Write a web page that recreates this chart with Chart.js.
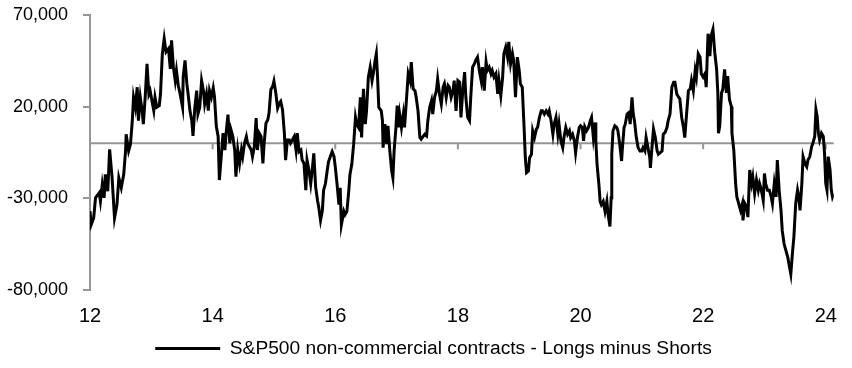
<!DOCTYPE html>
<html>
<head>
<meta charset="utf-8">
<script src="https://cdn.jsdelivr.net/npm/chart.js@4.4.1/dist/chart.umd.min.js"></script>
<style>
  html, body { margin: 0; padding: 0; background: #fff; }
  #wrap { width: 852px; height: 368px; }
</style>
</head>
<body>
<div id="wrap"><canvas id="myChart" width="852" height="368"></canvas></div>
<script>
// weekly positioning (year as decimal, 12 = 2012)
var weeks = [
  12.00, 12.02, 12.06, 12.09, 12.15, 12.17, 12.20, 12.23, 12.25, 12.29, 12.32, 12.36, 12.40, 12.44, 12.47, 12.51,
  12.55, 12.58, 12.59, 12.63, 12.66, 12.69, 12.71, 12.74, 12.77, 12.79, 12.82, 12.85, 12.87, 12.90, 12.93, 12.96,
  12.98, 13.01, 13.04, 13.06, 13.09, 13.13, 13.15, 13.18, 13.21, 13.24, 13.28, 13.31, 13.33, 13.36, 13.39, 13.41,
  13.44, 13.47, 13.51, 13.52, 13.55, 13.58, 13.60, 13.63, 13.66, 13.68, 13.71, 13.74, 13.76, 13.79, 13.82, 13.85,
  13.87, 13.90, 13.93, 13.95, 13.98,
  14.01, 14.03, 14.06, 14.09, 14.11, 14.14, 14.17, 14.20, 14.22, 14.25, 14.28, 14.30, 14.33, 14.36, 14.38, 14.41,
  14.44, 14.47, 14.49, 14.52, 14.55, 14.57, 14.60, 14.63, 14.65, 14.68, 14.71, 14.73, 14.76, 14.79, 14.82, 14.84,
  14.87, 14.90, 14.92, 14.95, 14.98, 15.00, 15.03, 15.06, 15.09, 15.11, 15.14, 15.17, 15.19, 15.22, 15.25, 15.27,
  15.30, 15.33, 15.36, 15.38, 15.41, 15.44, 15.46, 15.49, 15.52, 15.54, 15.57, 15.60, 15.63, 15.65, 15.68, 15.71,
  15.73, 15.76, 15.79, 15.81, 15.84, 15.87, 15.89, 15.92, 15.95, 15.98, 16.00,
  16.03, 16.06, 16.08, 16.10, 16.14, 16.16, 16.19, 16.22, 16.24, 16.27, 16.30, 16.33, 16.35, 16.38, 16.41, 16.43,
  16.46, 16.49, 16.51, 16.54, 16.57, 16.60, 16.62, 16.65, 16.67, 16.69, 16.71, 16.75, 16.77, 16.78, 16.81, 16.84,
  16.86, 16.89, 16.92, 16.94, 16.96, 16.99, 17.01, 17.03, 17.05, 17.08, 17.11, 17.13, 17.16, 17.19, 17.22, 17.24,
  17.27, 17.30, 17.32, 17.35, 17.38, 17.40, 17.46, 17.49, 17.51, 17.54, 17.57, 17.59, 17.62, 17.65, 17.67, 17.70,
  17.73, 17.76, 17.78, 17.81, 17.84, 17.86, 17.89, 17.92, 17.94, 17.97, 18.00,
  18.03, 18.05, 18.08, 18.11, 18.13, 18.16, 18.19, 18.21, 18.24, 18.27, 18.29, 18.32, 18.35, 18.38, 18.40, 18.43,
  18.46, 18.48, 18.51, 18.54, 18.56, 18.59, 18.62, 18.65, 18.67, 18.70, 18.73, 18.75, 18.78, 18.81, 18.83, 18.86,
  18.89, 18.91, 18.94, 18.97, 19.00, 19.02, 19.05, 19.08, 19.10, 19.12, 19.15, 19.17, 19.20, 19.22, 19.25, 19.28,
  19.30, 19.33, 19.36, 19.38, 19.41, 19.44, 19.47, 19.49, 19.52, 19.55, 19.57, 19.60, 19.63, 19.65, 19.68, 19.71,
  19.73, 19.76, 19.79, 19.82, 19.84, 19.87, 19.90, 19.92, 19.95, 19.98, 20.00, 20.03, 20.05,
  20.07, 20.10, 20.13, 20.16, 20.18, 20.21, 20.24, 20.25, 20.27, 20.30, 20.32, 20.34, 20.37, 20.40, 20.43, 20.45,
  20.48, 20.50, 20.51, 20.53, 20.56, 20.59, 20.61, 20.64, 20.67, 20.68, 20.71, 20.73, 20.76, 20.79, 20.81, 20.84,
  20.86, 20.88, 20.91, 20.94, 20.97, 21.00, 21.02, 21.05, 21.07, 21.10, 21.13, 21.14, 21.17, 21.19, 21.22, 21.25,
  21.27, 21.30, 21.33, 21.35, 21.38, 21.41, 21.43, 21.46, 21.49, 21.52, 21.54, 21.57, 21.60, 21.62, 21.65, 21.68,
  21.70, 21.73, 21.76, 21.79, 21.81, 21.84, 21.87, 21.89, 21.92, 21.95, 21.97, 22.00, 22.03, 22.05, 22.08,
  22.11, 22.13, 22.16, 22.19, 22.22, 22.24, 22.25, 22.27, 22.30, 22.32, 22.35, 22.38, 22.40, 22.43, 22.46, 22.47,
  22.50, 22.53, 22.55, 22.58, 22.61, 22.64, 22.65, 22.68, 22.71, 22.73, 22.76, 22.79, 22.81, 22.84, 22.87, 22.90,
  22.92, 22.95, 22.98, 23.00, 23.02, 23.05, 23.08, 23.11, 23.13, 23.16, 23.19, 23.21, 23.24, 23.27, 23.29, 23.32,
  23.35, 23.38, 23.40, 23.43, 23.46, 23.48, 23.51, 23.54, 23.56, 23.58, 23.61, 23.63, 23.66, 23.69, 23.71, 23.74,
  23.77, 23.79, 23.82, 23.84, 23.86, 23.88, 23.90, 23.93, 23.96, 23.98, 24.00, 24.02, 24.04, 24.07, 24.09, 24.11,
  24.13
]

var netPos = [
  -37100, -44500, -40800, -29800, -27100, -31700, -22500, -29800, -17000, -26200, -3300, -18800, -40800, -33500, -18800, -24300,
  -17000, -4200, 4900, -4200, -500, 12300, 25100, 19600, 30600, 12300, 25100, 17800, 10400, 25100, 43400, 26900,
  28700, 23200, 17800, 25100, 19600, 20500, 26900, 48900, 57100, 49800, 51600, 40600, 56200, 41500, 34200, 39700,
  31500, 26900, 19600, 36100, 45200, 32400, 26900, 17800, 12300, 4000, 19600, 28700, 15900, 19600, 34200, 28700,
  21400, 26900, 17800, 28700, 25100,
  30200, 25600, 9200, 3700, -20100, -7300, 5500, -3700, 5500, 15600, 0, 7300, 3700, -3700, -18300, -3700,
  -11000, -3700, -7300, 0, 3700, 0, -1800, -3700, -7300, -1800, 13700, -3700, 5500, 3700, -11000, 0,
  11000, 12800, 16500, 29300, 31100, 33900, 27500, 19200, 22000, 22900, 18300, 5500, -9200, 1800, 1800, 0,
  1800, 3700, -3700, 5500, -4600, -3700, -9200, -11000, -25600, -9200, -14600, -22000, -12800, -5500, -23800, -31100,
  -34800, -42100, -36600, -25600, -22000, -14600, -10100, -7300, -4600, -7300, -12800,
  -22500, -33500, -24300, -44500, -37200, -39000, -37200, -26200, -17000, -11500, -500, 14100, 10400, 8600, 25100, 3100,
  29700, 10400, 17700, 36100, 41500, 34200, 37900, 45200, 48900, 36100, 19600, 17700, 12300, -2400, 10400, -500,
  9500, -4200, -15100, -18900, -4200, 8600, 20500, 8600, 15900, 8600, 15900, 8600, 23200, 37900, 34200, 44300,
  29700, 28700, 25100, 17700, 3100, 2200, 4900, 4000, 12300, 19600, 23200, 15900, 25100, 28700, 35100, 26900,
  21400, 30600, 32400, 25100, 31500, 30600, 25100, 28700, 34200, 17700, 34200,
  33300, 14100, 28700, 38800, 25100, 14100, 12300, 25100, 41500, 43400, 45200, 47000, 39700, 34200, 41500, 28700,
  44300, 39700, 41500, 37900, 39700, 36100, 37900, 26900, 34200, 26000, 36100, 48900, 52500, 47000, 55300, 43400,
  48900, 45200, 25100, 47000, 39700, 32400, 30600, 8600, -7900, -16100, -15200, -7900, -6000, 6800, 3100, 7700,
  8600, 14100, 17700, 17700, 15900, 17700, 15900, 17700, 12300, 4900, 10400, 14100, 4900, 10400, 1300, -2400,
  3100, 8600, 4900, 6800, 3100, 4900, 1300, -5200, 3100, 8600, 9500, 8600, 1300,
  9000, 6800, 8600, 12300, 14100, 3100, 11300, 1300, -11500, -22500, -31700, -33500, -31700, -37200, -31700, -39000,
  -45400, -29800, -6000, 6800, 9500, 8600, 6800, -500, -9700, -4200, 8600, 10400, 15900, 16800, 10400, 25100,
  15900, 12300, 3100, -2400, -4200, -4200, -2400, -4200, 3100, -2400, -7900, -13400, -500, 7700, 3100, -4200,
  -6000, -5100, -4200, 4900, 5900, 8600, 12300, 15900, 30600, 33300, 33300, 26900, 25100, 24200, 14100, 8600,
  3100, 15900, 28700, 29700, 34200, 28700, 39700, 36100, 48900, 47000, 37900, 36100, 37900, 30600, 59800,
  47600, 58600, 62200, 49400, 40300, 27500, 5500, 9200, 27500, 29300, 40300, 27500, 36600, 23800, 20100, 5500,
  -3700, -22000, -29300, -32900, -36600, -32900, -42100, -32900, -34800, -40300, -14600, -22000, -18300, -27500, -20100, -25600,
  -22000, -25600, -31100, -16500, -22000, -25600, -25600, -29300, -32900, -22000, -29300, -9200, -25600, -36600, -47600, -54900,
  -58600, -62200, -65900, -71400, -58600, -51200, -32900, -25600, -29300, -36600, -22000, -7300, -11000, -12800, -9200, -7300,
  -1800, 0, 3700, 18300, 14600, 5500, 1800, 5500, 3700, -5500, -22000, -25600, -7300, -14600, -25600, -29300,
  -27500
]

var xTicks = [12, 14, 16, 18, 20, 22, 24]
var yTicks = [-80000, -30000, 20000, 70000]
var seriesName = 'S&P500 non-commercial contracts - Longs minus Shorts'

var points = weeks.map(function(w, i) { return { x: w, y: netPos[i] } })

const grey = '#969696'
const fontName = '"Liberation Sans", Arial, sans-serif'

// grey zero line with the x tick marks hanging off it
const zeroAxis = {
    id: 'zeroAxis',
    afterLayout(chart) {
        // legend sits a bit right of centre in the original
        chart.legend.left += 26
    },
    beforeDatasetsDraw(chart) {
        const x = chart.scales.x
        const y = chart.scales.y
        const ctx = chart.ctx
        const y0 = y.getPixelForValue(0)
        ctx.save()
        ctx.strokeStyle = grey
        ctx.lineWidth = 2
        ctx.beginPath()
        ctx.moveTo(chart.chartArea.left, y0)
        ctx.lineTo(chart.chartArea.right, y0)
        xTicks.forEach(function(t) {
            const px = x.getPixelForValue(t)
            ctx.moveTo(px, y0)
            ctx.lineTo(px, y0 + 6)
        })
        ctx.stroke()
        ctx.restore()
    }
}

const ctx = document.getElementById('myChart')

var myChart = new Chart(ctx, {
    type: 'line',
    data: {
        datasets: [{
            label: seriesName,
            data: points,
            borderColor: '#000',
            backgroundColor: '#000',
            borderWidth: 3,
            pointRadius: 0,
            tension: 0
        }]
    },
    options: {
        responsive: false,
        animation: false,
        layout: { padding: { top: 15, right: 11, left: 0, bottom: 0 } },
        plugins: {
            tooltip: { enabled: false },
            legend: {
                position: 'bottom',
                labels: {
                    color: '#000',
                    boxWidth: 65,
                    boxHeight: 0,
                    font: { family: fontName, size: 19.2 }
                }
            }
        },
        scales: {
            x: {
                type: 'linear',
                min: 12,
                max: 24.13,
                afterBuildTicks: function(scale) {
                    scale.ticks = xTicks.map(function(v) { return { value: v } })
                },
                afterFit: function(scale) { scale.height = 39 },
                border: { display: false },
                grid: { display: false, drawTicks: false },
                ticks: {
                    color: '#000',
                    padding: 15,
                    maxRotation: 0,
                    font: { family: fontName, size: 20 }
                }
            },
            y: {
                min: -80000,
                max: 70000,
                afterBuildTicks: function(scale) {
                    scale.ticks = yTicks.map(function(v) { return { value: v } })
                },
                afterFit: function(scale) {
                    scale.width = 90
                    scale.paddingTop = 0
                    scale.paddingBottom = 0
                },
                border: { display: true, color: grey, width: 2 },
                grid: { drawOnChartArea: false, drawTicks: true, tickLength: 7, color: grey, lineWidth: 2 },
                ticks: {
                    color: '#000',
                    padding: 15,
                    font: { family: fontName, size: 18 },
                    callback: function(v) { return v.toLocaleString('en-US') }
                }
            }
        }
    },
    plugins: [zeroAxis]
});
</script>
</body>
</html>
